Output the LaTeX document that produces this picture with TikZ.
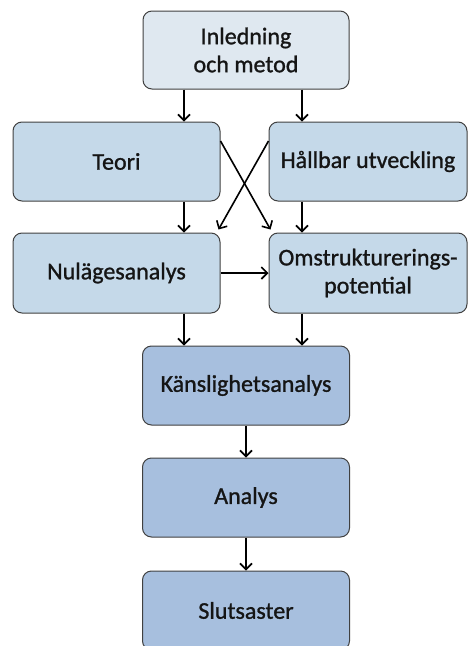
\documentclass[tikz,border=0pt]{standalone}
\usepackage{fontspec}
\setmainfont{Carlito}
\newfontfamily\boxfont{Carlito}[RawFeature={embolden=1.1}]
\usetikzlibrary{arrows.meta}
\definecolor{BoxLine}{HTML}{404040}
\definecolor{PaleBlue}{HTML}{DFE8F0}
\definecolor{MidBlue}{HTML}{C5D9E9}
\definecolor{DeepBlue}{HTML}{A7BFDE}
\definecolor{InkText}{HTML}{151515}

\tikzset{
  stage/.style={draw=BoxLine, line width=1pt, rounded corners=9pt,
    align=center, inner sep=2pt, minimum width=207pt, minimum height=79pt,
    text=InkText, font=\boxfont\fontsize{24}{28}\selectfont},
  arr/.style={-{Straight Barb[length=6pt,width=12pt]}, line width=1.6pt, black}
}

\begin{document}
\begin{tikzpicture}[x=1pt, y=-1pt]
      \useasboundingbox (0,0) rectangle (468,646);
      \coordinate (lc) at (184,0);
      \coordinate (rc) at (302,0);
      \node[stage, fill=PaleBlue, minimum width=206pt, minimum height=78pt] (intro) at (246,50)
        {Inledning\\och metod};
      \node[stage, fill=MidBlue] (teori) at (116.5,161.5) {Teori};
      \node[stage, fill=MidBlue, minimum width=198pt] (hallbar) at (368,161.5) {Hållbar utveckling};
      \node[stage, fill=MidBlue, minimum height=80pt] (nulage) at (116.5,273) {Nulägesanalys};
      \node[stage, fill=MidBlue, minimum width=198pt, minimum height=80pt] (omstr) at (368,273)
        {Omstrukturerings-\\potential};
      \node[stage, fill=DeepBlue] (kansl) at (246,385.5) {Känslighetsanalys};
      \node[stage, fill=DeepBlue] (analys) at (246,497.5) {Analys};
      \node[stage, fill=DeepBlue] (slut) at (246,610.5) {Slutsaster};
      % down arrows
      \draw[arr] (intro.south -| lc) -- (teori.north -| lc);
      \draw[arr] (intro.south -| rc) -- (hallbar.north -| rc);
      \draw[arr] (teori.south -| lc) -- (nulage.north -| lc);
      \draw[arr] (hallbar.south -| rc) -- (omstr.north -| rc);
      % crossing arrows
      \draw[arr] ([yshift=20.5pt]teori.east) -- ([shift={(2pt,3pt)}]omstr.north west);
      \draw[arr] ([yshift=20.5pt]hallbar.west) -- ([shift={(-2pt,3pt)}]nulage.north east);
      \draw[arr] (nulage.east) -- (omstr.west);
      % lower chain
      \draw[arr] (nulage.south -| lc) -- (kansl.north -| lc);
      \draw[arr] (omstr.south -| rc) -- (kansl.north -| rc);
      \draw[arr] (kansl) -- (analys);
      \draw[arr] (analys) -- (slut);
    \end{tikzpicture}
\end{document}
